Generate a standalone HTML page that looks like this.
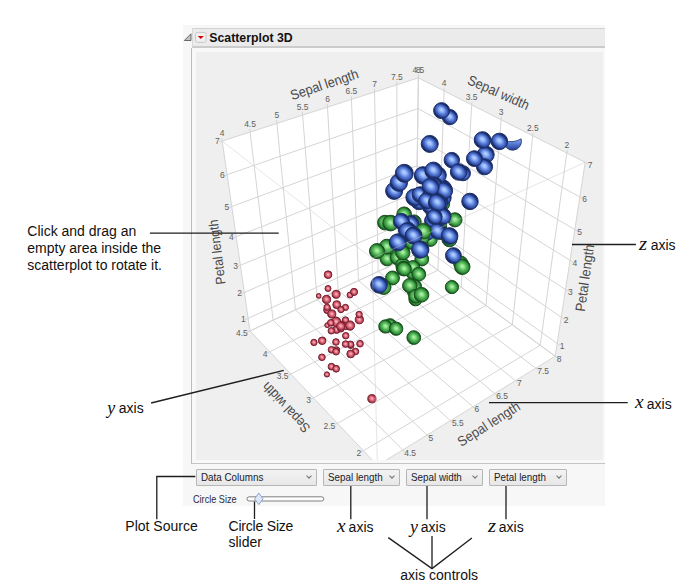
<!DOCTYPE html>
<html><head><meta charset="utf-8"><style>
*{margin:0;padding:0;box-sizing:border-box}
html,body{width:692px;height:586px;background:#fff;overflow:hidden}
body{position:relative;font-family:"Liberation Sans",sans-serif}
.a{position:absolute}
.ann{position:absolute;font-size:14px;color:#111;line-height:17.2px;white-space:nowrap}
.dd{position:absolute;top:468.5px;height:17px;border:1px solid #b6b6b6;border-radius:1px;background:linear-gradient(#f3f3f3,#e7e7e7);font-size:10.3px;color:#1a1a2a;line-height:15px;padding-left:4px;white-space:nowrap}
.dd i{position:absolute;right:5px;top:4px;width:4px;height:4px;border-right:1.3px solid #707070;border-bottom:1.3px solid #707070;transform:rotate(45deg)}
.dd b{font-weight:normal;display:inline-block;transform:scaleX(0.955);transform-origin:0 0}
.it{position:absolute;font-family:"Liberation Serif",serif;font-style:italic;font-size:18px;line-height:20px;color:#111;transform-origin:0 0}
</style></head><body>
<div class="a" style="left:183px;top:25px;width:422px;height:481px;background:#f7f7f7"></div>
<div class="a" style="left:192px;top:28px;width:413px;height:20px;background:#ebebeb;border-top:1px solid #d2d2d2;border-left:1px solid #d9d9d9;border-bottom:2px solid #cbcbcb;box-shadow:0 1px 0 #dedede"></div>
<div class="a" style="left:191px;top:48px;width:414px;height:416px;background:#f8f8f8;border-left:1px solid #bdbdbd;border-bottom:1px solid #c4c4c4"></div>
<div class="a" style="left:196px;top:52px;width:407px;height:408px;background:#efefef"></div>
<svg class="a" style="left:0;top:0" width="692" height="586" viewBox="0 0 692 586">
<defs>
<clipPath id="pc"><rect x="196" y="52" width="407" height="408"/></clipPath>
<radialGradient id="b" cx="0.5" cy="0.5" r="0.53" fx="0.45" fy="0.44" gradientTransform="translate(0.5 0.5) rotate(40) scale(1 0.75) translate(-0.5 -0.5)"><stop offset="0" stop-color="#b8d4ff"/><stop offset="0.27" stop-color="#97b9f9"/><stop offset="0.55" stop-color="#5d81da"/><stop offset="0.78" stop-color="#3b5bb6"/><stop offset="0.9" stop-color="#2a4592"/><stop offset="1" stop-color="#1a2d68"/></radialGradient>
<radialGradient id="g" cx="0.5" cy="0.5" r="0.53" fx="0.48" fy="0.46" gradientTransform="translate(0.5 0.5) rotate(40) scale(1 0.85) translate(-0.5 -0.5)"><stop offset="0" stop-color="#b4f8ac"/><stop offset="0.2" stop-color="#98e692"/><stop offset="0.5" stop-color="#5aba5e"/><stop offset="0.78" stop-color="#34933b"/><stop offset="0.9" stop-color="#23742b"/><stop offset="1" stop-color="#164d1c"/></radialGradient>
<radialGradient id="r" cx="0.5" cy="0.5" r="0.53" fx="0.48" fy="0.46" gradientTransform="translate(0.5 0.5) rotate(40) scale(1 0.85) translate(-0.5 -0.5)"><stop offset="0" stop-color="#fcbac5"/><stop offset="0.2" stop-color="#f59fac"/><stop offset="0.5" stop-color="#dd6a7b"/><stop offset="0.78" stop-color="#c04a5c"/><stop offset="0.9" stop-color="#9c3647"/><stop offset="1" stop-color="#73212f"/></radialGradient>
<linearGradient id="bc" x1="0" y1="0" x2="0" y2="1"><stop offset="0" stop-color="#8fb2f6"/><stop offset="0.45" stop-color="#5578d4"/><stop offset="1" stop-color="#233d8a"/></linearGradient>
<linearGradient id="bs"><stop offset="0" stop-color="#1c2e6a"/></linearGradient>
<linearGradient id="gs"><stop offset="0" stop-color="#1a4f20"/></linearGradient>
<linearGradient id="rs"><stop offset="0" stop-color="#7a2232"/></linearGradient>
</defs>
<g clip-path="url(#pc)">
<path d="M249.99,330.91 L415.88,254.05 L418.38,77.87 L222.2,141.05Z" fill="#fff"/>
<path d="M415.88,254.05 L555.2,356.24 L585.22,162.34 L418.38,77.87Z" fill="#fff"/>
<path d="M249.99,330.91 L415.88,254.05 L555.2,356.24 L377.41,465.51Z" fill="#fff"/>
<g stroke="#d5d5d5" stroke-width="1" fill="none"><line x1="273.11" y1="320.19" x2="250.05" y2="132.08" /><line x1="402.71" y1="449.96" x2="273.11" y2="320.19" /><line x1="295.49" y1="309.83" x2="276.85" y2="123.45" /><line x1="427.03" y1="435.01" x2="295.49" y2="309.83" /><line x1="317.15" y1="299.79" x2="302.64" y2="115.15" /><line x1="450.42" y1="420.64" x2="317.15" y2="299.79" /><line x1="338.13" y1="290.07" x2="327.49" y2="107.14" /><line x1="472.94" y1="406.8" x2="338.13" y2="290.07" /><line x1="358.47" y1="280.65" x2="351.44" y2="99.43" /><line x1="494.63" y1="393.46" x2="358.47" y2="280.65" /><line x1="378.19" y1="271.51" x2="374.54" y2="91.99" /><line x1="515.55" y1="380.61" x2="378.19" y2="271.51" /><line x1="397.32" y1="262.65" x2="396.84" y2="84.81" /><line x1="535.72" y1="368.21" x2="397.32" y2="262.65" /><line x1="248.15" y1="318.35" x2="416.05" y2="242.16" /><line x1="557.17" y1="343.51" x2="416.05" y2="242.16" /><line x1="244.37" y1="292.48" x2="416.4" y2="217.77" /><line x1="561.24" y1="317.23" x2="416.4" y2="217.77" /><line x1="240.39" y1="265.29" x2="416.76" y2="192.3" /><line x1="565.52" y1="289.55" x2="416.76" y2="192.3" /><line x1="236.2" y1="236.67" x2="417.14" y2="165.65" /><line x1="570.04" y1="260.35" x2="417.14" y2="165.65" /><line x1="231.78" y1="206.51" x2="417.53" y2="137.76" /><line x1="574.82" y1="229.52" x2="417.53" y2="137.76" /><line x1="227.12" y1="174.69" x2="417.95" y2="108.54" /><line x1="579.87" y1="196.9" x2="417.95" y2="108.54" /><line x1="540.21" y1="345.25" x2="566.8" y2="153.02" /><line x1="363.41" y1="450.71" x2="540.21" y2="345.25" /><line x1="512.28" y1="324.75" x2="532.78" y2="135.79" /><line x1="337.5" y1="423.34" x2="512.28" y2="324.75" /><line x1="486.01" y1="305.49" x2="501.16" y2="119.78" /><line x1="313.36" y1="397.85" x2="486.01" y2="305.49" /><line x1="461.28" y1="287.35" x2="471.69" y2="104.86" /><line x1="290.84" y1="374.06" x2="461.28" y2="287.35" /><line x1="437.94" y1="270.23" x2="444.16" y2="90.92" /><line x1="269.76" y1="351.79" x2="437.94" y2="270.23" /><path d="M249.99,330.91 L415.88,254.05 L418.38,77.87 L222.2,141.05Z" fill="none"/><path d="M415.88,254.05 L555.2,356.24 L585.22,162.34 L418.38,77.87Z" fill="none"/><path d="M249.99,330.91 L415.88,254.05 L555.2,356.24 L377.41,465.51Z" fill="none"/><line x1="222.2" y1="141.05" x2="221.74" y2="137.89"/><line x1="250.05" y1="132.08" x2="249.66" y2="128.91"/><line x1="276.85" y1="123.45" x2="276.53" y2="120.27"/><line x1="302.64" y1="115.15" x2="302.39" y2="111.96"/><line x1="327.49" y1="107.14" x2="327.3" y2="103.95"/><line x1="351.44" y1="99.43" x2="351.32" y2="96.23"/><line x1="374.54" y1="91.99" x2="374.48" y2="88.79"/><line x1="396.84" y1="84.81" x2="396.84" y2="81.61"/><line x1="418.38" y1="77.87" x2="418.43" y2="74.67"/><line x1="418.38" y1="77.87" x2="418.43" y2="74.67"/><line x1="444.16" y1="90.92" x2="444.27" y2="87.73"/><line x1="471.69" y1="104.86" x2="471.87" y2="101.67"/><line x1="501.16" y1="119.78" x2="501.42" y2="116.59"/><line x1="532.78" y1="135.79" x2="533.13" y2="132.61"/><line x1="566.8" y1="153.02" x2="567.24" y2="149.85"/><line x1="222.2" y1="141.05" x2="219.15" y2="142.03"/><line x1="248.15" y1="318.35" x2="245.24" y2="319.68"/><line x1="244.37" y1="292.48" x2="241.43" y2="293.76"/><line x1="240.39" y1="265.29" x2="237.43" y2="266.51"/><line x1="236.2" y1="236.67" x2="233.22" y2="237.84"/><line x1="231.78" y1="206.51" x2="228.78" y2="207.63"/><line x1="227.12" y1="174.69" x2="224.1" y2="175.74"/><line x1="585.22" y1="162.34" x2="588.07" y2="163.79"/><line x1="557.17" y1="343.51" x2="559.77" y2="345.37"/><line x1="561.24" y1="317.23" x2="563.88" y2="319.04"/><line x1="565.52" y1="289.55" x2="568.2" y2="291.3"/><line x1="570.04" y1="260.35" x2="572.76" y2="262.04"/><line x1="574.82" y1="229.52" x2="577.58" y2="231.13"/><line x1="579.87" y1="196.9" x2="582.68" y2="198.44"/><line x1="249.99" y1="330.91" x2="247.09" y2="332.25"/><line x1="363.41" y1="450.71" x2="360.66" y2="452.35"/><line x1="337.5" y1="423.34" x2="334.71" y2="424.92"/><line x1="313.36" y1="397.85" x2="310.54" y2="399.36"/><line x1="290.84" y1="374.06" x2="287.99" y2="375.51"/><line x1="269.76" y1="351.79" x2="266.88" y2="353.18"/><line x1="402.71" y1="449.96" x2="404.97" y2="452.22"/><line x1="427.03" y1="435.01" x2="429.35" y2="437.22"/><line x1="450.42" y1="420.64" x2="452.79" y2="422.79"/><line x1="472.94" y1="406.8" x2="475.36" y2="408.89"/><line x1="494.63" y1="393.46" x2="497.1" y2="395.5"/><line x1="515.55" y1="380.61" x2="518.05" y2="382.6"/><line x1="535.72" y1="368.21" x2="538.27" y2="370.15"/><line x1="555.2" y1="356.24" x2="557.78" y2="358.13"/></g>
<path d="M503.78,140.52 A8.87,8.87 0 1 0 521.13,138.85 Q513.61,143.49 503.78,140.52Z" fill="url(#bc)" stroke="#1a2d6a" stroke-width="0.8"/><circle cx="328.06" cy="274.69" r="3.83" fill="url(#r)" stroke="url(#rs)" stroke-width="1"/><circle cx="350.02" cy="295.03" r="3" fill="url(#r)" stroke="url(#rs)" stroke-width="1"/><circle cx="327.99" cy="288.53" r="3" fill="url(#r)" stroke="url(#rs)" stroke-width="1"/><circle cx="318.72" cy="295.92" r="2.36" fill="url(#r)" stroke="url(#rs)" stroke-width="1"/><circle cx="336.75" cy="304.64" r="3.97" fill="url(#r)" stroke="url(#rs)" stroke-width="1"/><circle cx="354.02" cy="291.94" r="3.58" fill="url(#r)" stroke="url(#rs)" stroke-width="1"/><circle cx="336.13" cy="294.33" r="4.01" fill="url(#r)" stroke="url(#rs)" stroke-width="1"/><circle cx="345.43" cy="307.42" r="3.12" fill="url(#r)" stroke="url(#rs)" stroke-width="1"/><circle cx="340.91" cy="309.59" r="3.13" fill="url(#r)" stroke="url(#rs)" stroke-width="1"/><circle cx="327.29" cy="309.9" r="3.64" fill="url(#r)" stroke="url(#rs)" stroke-width="1"/><circle cx="359.36" cy="318.51" r="3.13" fill="url(#r)" stroke="url(#rs)" stroke-width="1"/><circle cx="327.11" cy="307.3" r="3.14" fill="url(#r)" stroke="url(#rs)" stroke-width="1"/><circle cx="331.77" cy="313.97" r="4.08" fill="url(#r)" stroke="url(#rs)" stroke-width="1"/><circle cx="326.56" cy="299.42" r="4.09" fill="url(#r)" stroke="url(#rs)" stroke-width="1"/><circle cx="331.85" cy="322.93" r="3.17" fill="url(#r)" stroke="url(#rs)" stroke-width="1"/><circle cx="359.34" cy="319.68" r="4.12" fill="url(#r)" stroke="url(#rs)" stroke-width="1"/><circle cx="345.51" cy="320" r="3.18" fill="url(#r)" stroke="url(#rs)" stroke-width="1"/><circle cx="341.05" cy="324.87" r="3.18" fill="url(#r)" stroke="url(#rs)" stroke-width="1"/><circle cx="341.05" cy="324.87" r="3.7" fill="url(#r)" stroke="url(#rs)" stroke-width="1"/><circle cx="327.2" cy="325.19" r="2.46" fill="url(#r)" stroke="url(#rs)" stroke-width="1"/><circle cx="313.93" cy="342.4" r="3.19" fill="url(#r)" stroke="url(#rs)" stroke-width="1"/><circle cx="336.58" cy="329.74" r="3.71" fill="url(#r)" stroke="url(#rs)" stroke-width="1"/><circle cx="350.31" cy="326.81" r="3.19" fill="url(#r)" stroke="url(#rs)" stroke-width="1"/><circle cx="359.13" cy="314.44" r="3.19" fill="url(#r)" stroke="url(#rs)" stroke-width="1"/><circle cx="449.87" cy="117.08" r="7.58" fill="url(#b)" stroke="url(#bs)" stroke-width="1"/><circle cx="336.1" cy="321.9" r="4.84" fill="url(#r)" stroke="url(#rs)" stroke-width="1"/><circle cx="345.56" cy="326.49" r="3.21" fill="url(#r)" stroke="url(#rs)" stroke-width="1"/><circle cx="340.9" cy="328.79" r="3.22" fill="url(#r)" stroke="url(#rs)" stroke-width="1"/><circle cx="340.75" cy="326.16" r="4.19" fill="url(#r)" stroke="url(#rs)" stroke-width="1"/><circle cx="345.74" cy="335.72" r="3.24" fill="url(#r)" stroke="url(#rs)" stroke-width="1"/><circle cx="350.76" cy="345.32" r="3.24" fill="url(#r)" stroke="url(#rs)" stroke-width="1"/><circle cx="350.02" cy="325.49" r="4.58" fill="url(#r)" stroke="url(#rs)" stroke-width="1"/><circle cx="331.31" cy="330.8" r="3.25" fill="url(#r)" stroke="url(#rs)" stroke-width="1"/><circle cx="441.59" cy="110.63" r="7.98" fill="url(#b)" stroke="url(#bs)" stroke-width="1"/><circle cx="322.14" cy="340.78" r="3.79" fill="url(#r)" stroke="url(#rs)" stroke-width="1"/><circle cx="330.77" cy="322.8" r="3.28" fill="url(#r)" stroke="url(#rs)" stroke-width="1"/><circle cx="336.44" cy="349.93" r="3.28" fill="url(#r)" stroke="url(#rs)" stroke-width="1"/><circle cx="350.47" cy="344.32" r="2.55" fill="url(#r)" stroke="url(#rs)" stroke-width="1"/><circle cx="350.47" cy="344.32" r="3.3" fill="url(#r)" stroke="url(#rs)" stroke-width="1"/><circle cx="441.29" cy="204.27" r="6.83" fill="url(#g)" stroke="url(#gs)" stroke-width="1"/><circle cx="331.47" cy="349.74" r="3.31" fill="url(#r)" stroke="url(#rs)" stroke-width="1"/><circle cx="429.74" cy="143.93" r="8.5" fill="url(#b)" stroke="url(#bs)" stroke-width="1"/><circle cx="335.94" cy="342.01" r="3.31" fill="url(#r)" stroke="url(#rs)" stroke-width="1"/><circle cx="355.47" cy="351.49" r="3.31" fill="url(#r)" stroke="url(#rs)" stroke-width="1"/><circle cx="360" cy="343.74" r="3.32" fill="url(#r)" stroke="url(#rs)" stroke-width="1"/><circle cx="321.94" cy="357.29" r="3.32" fill="url(#r)" stroke="url(#rs)" stroke-width="1"/><circle cx="345.56" cy="344.09" r="3.32" fill="url(#r)" stroke="url(#rs)" stroke-width="1"/><circle cx="350.7" cy="353.95" r="2.57" fill="url(#r)" stroke="url(#rs)" stroke-width="1"/><circle cx="350.7" cy="353.95" r="3.87" fill="url(#r)" stroke="url(#rs)" stroke-width="1"/><circle cx="433.08" cy="222.77" r="6.9" fill="url(#g)" stroke="url(#gs)" stroke-width="1"/><circle cx="336.06" cy="351.66" r="3.34" fill="url(#r)" stroke="url(#rs)" stroke-width="1"/><circle cx="442.57" cy="203.69" r="7.12" fill="url(#g)" stroke="url(#gs)" stroke-width="1"/><circle cx="414.08" cy="222.06" r="7.13" fill="url(#g)" stroke="url(#gs)" stroke-width="1"/><circle cx="384.91" cy="222.63" r="7.31" fill="url(#g)" stroke="url(#gs)" stroke-width="1"/><circle cx="326.9" cy="374.46" r="2.59" fill="url(#r)" stroke="url(#rs)" stroke-width="1"/><circle cx="433.34" cy="213.71" r="7.13" fill="url(#g)" stroke="url(#gs)" stroke-width="1"/><circle cx="404.16" cy="214.28" r="7.32" fill="url(#g)" stroke="url(#gs)" stroke-width="1"/><circle cx="331.45" cy="366.64" r="3.37" fill="url(#r)" stroke="url(#rs)" stroke-width="1"/><circle cx="434.06" cy="228.54" r="6.97" fill="url(#g)" stroke="url(#gs)" stroke-width="1"/><circle cx="442.79" cy="197.53" r="8.4" fill="url(#b)" stroke="url(#bs)" stroke-width="1"/><circle cx="485.79" cy="154.56" r="8.43" fill="url(#b)" stroke="url(#bs)" stroke-width="1"/><circle cx="451.81" cy="160.09" r="7.71" fill="url(#b)" stroke="url(#bs)" stroke-width="1"/><circle cx="418.96" cy="201.69" r="8.03" fill="url(#b)" stroke="url(#bs)" stroke-width="1"/><circle cx="336.12" cy="368.76" r="3.4" fill="url(#r)" stroke="url(#rs)" stroke-width="1"/><circle cx="443.14" cy="188.17" r="8.18" fill="url(#b)" stroke="url(#bs)" stroke-width="1"/><circle cx="437.83" cy="175.17" r="8.47" fill="url(#b)" stroke="url(#bs)" stroke-width="1"/><circle cx="423.07" cy="175.44" r="8.19" fill="url(#b)" stroke="url(#bs)" stroke-width="1"/><circle cx="423.07" cy="175.44" r="8.75" fill="url(#b)" stroke="url(#bs)" stroke-width="1"/><circle cx="430.38" cy="239.55" r="6.86" fill="url(#g)" stroke="url(#gs)" stroke-width="1"/><circle cx="439.84" cy="226.28" r="6.87" fill="url(#g)" stroke="url(#gs)" stroke-width="1"/><circle cx="439.21" cy="208.18" r="7.59" fill="url(#g)" stroke="url(#gs)" stroke-width="1"/><circle cx="394.12" cy="190.91" r="8.51" fill="url(#b)" stroke="url(#bs)" stroke-width="1"/><circle cx="463.01" cy="173.3" r="7.44" fill="url(#b)" stroke="url(#bs)" stroke-width="1"/><circle cx="398.85" cy="182.66" r="8.66" fill="url(#b)" stroke="url(#bs)" stroke-width="1"/><circle cx="454.92" cy="219.84" r="7.09" fill="url(#g)" stroke="url(#gs)" stroke-width="1"/><circle cx="414.38" cy="197.39" r="8.54" fill="url(#b)" stroke="url(#bs)" stroke-width="1"/><circle cx="439.42" cy="201.94" r="8.54" fill="url(#b)" stroke="url(#bs)" stroke-width="1"/><circle cx="433.42" cy="170.62" r="8.55" fill="url(#b)" stroke="url(#bs)" stroke-width="1"/><circle cx="421.09" cy="243.79" r="6.91" fill="url(#g)" stroke="url(#gs)" stroke-width="1"/><circle cx="401.41" cy="249.27" r="7.3" fill="url(#g)" stroke="url(#gs)" stroke-width="1"/><circle cx="434.16" cy="185.66" r="8.71" fill="url(#b)" stroke="url(#bs)" stroke-width="1"/><circle cx="458.65" cy="171.95" r="8.29" fill="url(#b)" stroke="url(#bs)" stroke-width="1"/><circle cx="482.51" cy="139.97" r="8.29" fill="url(#b)" stroke="url(#bs)" stroke-width="1"/><circle cx="421.79" cy="259.03" r="6.93" fill="url(#g)" stroke="url(#gs)" stroke-width="1"/><circle cx="444.36" cy="190.5" r="8.29" fill="url(#b)" stroke="url(#bs)" stroke-width="1"/><circle cx="392.51" cy="277.95" r="6.94" fill="url(#g)" stroke="url(#gs)" stroke-width="1"/><circle cx="390.57" cy="223.08" r="7.84" fill="url(#g)" stroke="url(#gs)" stroke-width="1"/><circle cx="440.92" cy="232.22" r="7.32" fill="url(#g)" stroke="url(#gs)" stroke-width="1"/><circle cx="410.98" cy="232.82" r="7.14" fill="url(#g)" stroke="url(#gs)" stroke-width="1"/><circle cx="430.14" cy="205.92" r="8.17" fill="url(#b)" stroke="url(#bs)" stroke-width="1"/><circle cx="391.82" cy="253.63" r="6.77" fill="url(#g)" stroke="url(#gs)" stroke-width="1"/><circle cx="387" cy="258.86" r="6.98" fill="url(#g)" stroke="url(#gs)" stroke-width="1"/><circle cx="484.48" cy="166.78" r="8.05" fill="url(#b)" stroke="url(#bs)" stroke-width="1"/><circle cx="420.02" cy="194.7" r="7.89" fill="url(#b)" stroke="url(#bs)" stroke-width="1"/><circle cx="474.38" cy="158.62" r="7.91" fill="url(#b)" stroke="url(#bs)" stroke-width="1"/><circle cx="411.72" cy="241.99" r="7.39" fill="url(#g)" stroke="url(#gs)" stroke-width="1"/><circle cx="411.07" cy="223.53" r="7.91" fill="url(#b)" stroke="url(#bs)" stroke-width="1"/><circle cx="406.25" cy="228.74" r="7.92" fill="url(#b)" stroke="url(#bs)" stroke-width="1"/><circle cx="404.3" cy="173.29" r="8.95" fill="url(#b)" stroke="url(#bs)" stroke-width="1"/><circle cx="430.39" cy="196.39" r="7.92" fill="url(#b)" stroke="url(#bs)" stroke-width="1"/><circle cx="416.57" cy="233.67" r="7.21" fill="url(#g)" stroke="url(#gs)" stroke-width="1"/><circle cx="499.41" cy="141.41" r="8.25" fill="url(#b)" stroke="url(#bs)" stroke-width="1"/><circle cx="397.25" cy="257.74" r="7.03" fill="url(#g)" stroke="url(#gs)" stroke-width="1"/><circle cx="413.74" cy="291.49" r="6.38" fill="url(#g)" stroke="url(#gs)" stroke-width="1"/><circle cx="413.09" cy="272.93" r="6.84" fill="url(#g)" stroke="url(#gs)" stroke-width="1"/><circle cx="402.75" cy="264.94" r="7.06" fill="url(#g)" stroke="url(#gs)" stroke-width="1"/><circle cx="427.04" cy="232.38" r="7.97" fill="url(#b)" stroke="url(#bs)" stroke-width="1"/><circle cx="386.85" cy="246.66" r="7.45" fill="url(#g)" stroke="url(#gs)" stroke-width="1"/><circle cx="422.21" cy="237.65" r="6.86" fill="url(#g)" stroke="url(#gs)" stroke-width="1"/><circle cx="430.64" cy="186.7" r="8.61" fill="url(#b)" stroke="url(#bs)" stroke-width="1"/><circle cx="413.16" cy="266.89" r="6.42" fill="url(#g)" stroke="url(#gs)" stroke-width="1"/><circle cx="432.04" cy="220.82" r="7.48" fill="url(#b)" stroke="url(#bs)" stroke-width="1"/><circle cx="371.88" cy="398.7" r="4.1" fill="url(#r)" stroke="url(#rs)" stroke-width="1"/><circle cx="401.44" cy="221.43" r="8.02" fill="url(#b)" stroke="url(#bs)" stroke-width="1"/><circle cx="437.64" cy="231.08" r="8.02" fill="url(#b)" stroke="url(#bs)" stroke-width="1"/><circle cx="418.78" cy="274.2" r="6.9" fill="url(#g)" stroke="url(#gs)" stroke-width="1"/><circle cx="376.95" cy="251.08" r="7.51" fill="url(#g)" stroke="url(#gs)" stroke-width="1"/><circle cx="402.77" cy="252.68" r="7.14" fill="url(#g)" stroke="url(#gs)" stroke-width="1"/><circle cx="426.68" cy="200.93" r="8.06" fill="url(#b)" stroke="url(#bs)" stroke-width="1"/><circle cx="442.84" cy="216.24" r="8.24" fill="url(#b)" stroke="url(#bs)" stroke-width="1"/><circle cx="403.45" cy="268.43" r="7.16" fill="url(#g)" stroke="url(#gs)" stroke-width="1"/><circle cx="389.99" cy="325.38" r="6.73" fill="url(#g)" stroke="url(#gs)" stroke-width="1"/><circle cx="437.3" cy="202.68" r="8.57" fill="url(#b)" stroke="url(#bs)" stroke-width="1"/><circle cx="437.3" cy="202.68" r="8.72" fill="url(#b)" stroke="url(#bs)" stroke-width="1"/><circle cx="414.72" cy="286.32" r="6.77" fill="url(#g)" stroke="url(#gs)" stroke-width="1"/><circle cx="449.45" cy="239.17" r="7.6" fill="url(#g)" stroke="url(#gs)" stroke-width="1"/><circle cx="383.62" cy="287" r="7.41" fill="url(#g)" stroke="url(#gs)" stroke-width="1"/><circle cx="460.74" cy="263.25" r="7.21" fill="url(#g)" stroke="url(#gs)" stroke-width="1"/><circle cx="423.38" cy="231.24" r="7.81" fill="url(#g)" stroke="url(#gs)" stroke-width="1"/><circle cx="449.59" cy="235.99" r="8.33" fill="url(#b)" stroke="url(#bs)" stroke-width="1"/><circle cx="407.78" cy="231.55" r="9.09" fill="url(#b)" stroke="url(#bs)" stroke-width="1"/><circle cx="415.47" cy="299.3" r="6.57" fill="url(#g)" stroke="url(#gs)" stroke-width="1"/><circle cx="397.82" cy="242.36" r="8.51" fill="url(#b)" stroke="url(#bs)" stroke-width="1"/><circle cx="409.82" cy="285.67" r="7.25" fill="url(#g)" stroke="url(#gs)" stroke-width="1"/><circle cx="415.51" cy="296.28" r="6.82" fill="url(#g)" stroke="url(#gs)" stroke-width="1"/><circle cx="451.89" cy="287.05" r="6.59" fill="url(#g)" stroke="url(#gs)" stroke-width="1"/><circle cx="469.97" cy="201.43" r="8.22" fill="url(#b)" stroke="url(#bs)" stroke-width="1"/><circle cx="404.18" cy="268.91" r="7.07" fill="url(#g)" stroke="url(#gs)" stroke-width="1"/><circle cx="413.53" cy="235.64" r="8.39" fill="url(#b)" stroke="url(#bs)" stroke-width="1"/><circle cx="413.53" cy="235.64" r="8.39" fill="url(#b)" stroke="url(#bs)" stroke-width="1"/><circle cx="462.29" cy="266.78" r="7.72" fill="url(#g)" stroke="url(#gs)" stroke-width="1"/><circle cx="385.38" cy="326.46" r="6.65" fill="url(#g)" stroke="url(#gs)" stroke-width="1"/><circle cx="434.6" cy="216.85" r="7.56" fill="url(#b)" stroke="url(#bs)" stroke-width="1"/><circle cx="396.14" cy="328.7" r="6.67" fill="url(#g)" stroke="url(#gs)" stroke-width="1"/><circle cx="421.47" cy="294.76" r="7.36" fill="url(#g)" stroke="url(#gs)" stroke-width="1"/><circle cx="420.22" cy="249.54" r="8.7" fill="url(#b)" stroke="url(#bs)" stroke-width="1"/><circle cx="453.41" cy="255.55" r="7.89" fill="url(#b)" stroke="url(#bs)" stroke-width="1"/><circle cx="379.07" cy="284.81" r="8.33" fill="url(#b)" stroke="url(#bs)" stroke-width="1"/><circle cx="413.77" cy="337.58" r="6.87" fill="url(#g)" stroke="url(#gs)" stroke-width="1"/>
<g stroke="#c4c4c4" stroke-width="1" opacity="0.42"><line x1="222.2" y1="141.05" x2="372.11" y2="258.44" /><line x1="372.11" y1="258.44" x2="585.22" y2="162.34" /><line x1="372.11" y1="258.44" x2="377.41" y2="465.51" /></g>
<g font-family="Liberation Sans, sans-serif"><text transform="translate(222.2 135.85) scale(0.9 1)" font-size="9.4" text-anchor="middle" fill="#606060">4</text><text transform="translate(250.05 126.88) scale(0.9 1)" font-size="9.4" text-anchor="middle" fill="#606060">4.5</text><text transform="translate(276.85 118.25) scale(0.9 1)" font-size="9.4" text-anchor="middle" fill="#606060">5</text><text transform="translate(302.64 109.95) scale(0.9 1)" font-size="9.4" text-anchor="middle" fill="#606060">5.5</text><text transform="translate(327.49 101.94) scale(0.9 1)" font-size="9.4" text-anchor="middle" fill="#606060">6</text><text transform="translate(351.44 94.23) scale(0.9 1)" font-size="9.4" text-anchor="middle" fill="#606060">6.5</text><text transform="translate(374.54 86.79) scale(0.9 1)" font-size="9.4" text-anchor="middle" fill="#606060">7</text><text transform="translate(396.84 79.61) scale(0.9 1)" font-size="9.4" text-anchor="middle" fill="#606060">7.5</text><text transform="translate(418.38 72.67) scale(0.9 1)" font-size="9.4" text-anchor="middle" fill="#606060">8</text><text transform="translate(418.38 73.07) scale(0.9 1)" font-size="9.4" text-anchor="middle" fill="#606060">4.5</text><text transform="translate(444.16 86.12) scale(0.9 1)" font-size="9.4" text-anchor="middle" fill="#606060">4</text><text transform="translate(471.69 100.06) scale(0.9 1)" font-size="9.4" text-anchor="middle" fill="#606060">3.5</text><text transform="translate(501.16 114.98) scale(0.9 1)" font-size="9.4" text-anchor="middle" fill="#606060">3</text><text transform="translate(532.78 130.99) scale(0.9 1)" font-size="9.4" text-anchor="middle" fill="#606060">2.5</text><text transform="translate(566.8 148.22) scale(0.9 1)" font-size="9.4" text-anchor="middle" fill="#606060">2</text><text transform="translate(219.7 144.45) scale(0.9 1)" font-size="9.4" text-anchor="end" fill="#606060">7</text><text transform="translate(245.65 321.75) scale(0.9 1)" font-size="9.4" text-anchor="end" fill="#606060">1</text><text transform="translate(241.87 295.88) scale(0.9 1)" font-size="9.4" text-anchor="end" fill="#606060">2</text><text transform="translate(237.89 268.69) scale(0.9 1)" font-size="9.4" text-anchor="end" fill="#606060">3</text><text transform="translate(233.7 240.07) scale(0.9 1)" font-size="9.4" text-anchor="end" fill="#606060">4</text><text transform="translate(229.28 209.91) scale(0.9 1)" font-size="9.4" text-anchor="end" fill="#606060">5</text><text transform="translate(224.62 178.09) scale(0.9 1)" font-size="9.4" text-anchor="end" fill="#606060">6</text><text transform="translate(587.72 167.64) scale(0.9 1)" font-size="9.4" text-anchor="start" fill="#606060">7</text><text transform="translate(559.67 348.81) scale(0.9 1)" font-size="9.4" text-anchor="start" fill="#606060">1</text><text transform="translate(563.74 322.53) scale(0.9 1)" font-size="9.4" text-anchor="start" fill="#606060">2</text><text transform="translate(568.02 294.85) scale(0.9 1)" font-size="9.4" text-anchor="start" fill="#606060">3</text><text transform="translate(572.54 265.65) scale(0.9 1)" font-size="9.4" text-anchor="start" fill="#606060">4</text><text transform="translate(577.32 234.82) scale(0.9 1)" font-size="9.4" text-anchor="start" fill="#606060">5</text><text transform="translate(582.37 202.2) scale(0.9 1)" font-size="9.4" text-anchor="start" fill="#606060">6</text><text transform="translate(247.69 336.21) scale(0.9 1)" font-size="9.4" text-anchor="end" fill="#606060">4.5</text><text transform="translate(361.11 456.01) scale(0.9 1)" font-size="9.4" text-anchor="end" fill="#606060">2</text><text transform="translate(335.2 428.64) scale(0.9 1)" font-size="9.4" text-anchor="end" fill="#606060">2.5</text><text transform="translate(311.06 403.15) scale(0.9 1)" font-size="9.4" text-anchor="end" fill="#606060">3</text><text transform="translate(288.54 379.36) scale(0.9 1)" font-size="9.4" text-anchor="end" fill="#606060">3.5</text><text transform="translate(267.46 357.09) scale(0.9 1)" font-size="9.4" text-anchor="end" fill="#606060">4</text><text transform="translate(404.21 455.56) scale(0.9 1)" font-size="9.4" text-anchor="start" fill="#606060">4.5</text><text transform="translate(428.53 440.61) scale(0.9 1)" font-size="9.4" text-anchor="start" fill="#606060">5</text><text transform="translate(451.92 426.24) scale(0.9 1)" font-size="9.4" text-anchor="start" fill="#606060">5.5</text><text transform="translate(474.44 412.4) scale(0.9 1)" font-size="9.4" text-anchor="start" fill="#606060">6</text><text transform="translate(496.13 399.06) scale(0.9 1)" font-size="9.4" text-anchor="start" fill="#606060">6.5</text><text transform="translate(517.05 386.21) scale(0.9 1)" font-size="9.4" text-anchor="start" fill="#606060">7</text><text transform="translate(537.22 373.81) scale(0.9 1)" font-size="9.4" text-anchor="start" fill="#606060">7.5</text><text transform="translate(556.7 361.84) scale(0.9 1)" font-size="9.4" text-anchor="start" fill="#606060">8</text></g>
<g font-family="Liberation Sans, sans-serif"><text transform="translate(292.2 100.3) rotate(-18.5) scale(0.915 1)" font-size="13.95" fill="#4a4a4a">Sepal length</text><text transform="translate(466.5 83.5) rotate(24) scale(0.915 1)" font-size="13.95" fill="#4a4a4a">Sepal width</text><text transform="translate(225.5 284) rotate(-97) scale(0.915 1)" font-size="13.52" fill="#4a4a4a">Petal length</text><text transform="translate(584.8 312) rotate(-82) scale(0.915 1)" font-size="13.95" fill="#4a4a4a">Petal length</text><text transform="translate(311 427.5) rotate(-133) scale(0.915 1)" font-size="13.41" fill="#4a4a4a">Sepal width</text><text transform="translate(461.3 446.9) rotate(-32.3) scale(0.915 1)" font-size="13.95" fill="#4a4a4a">Sepal length</text></g>
</g>
<!-- header icons -->
<path d="M184.3,40.5 L191,40.5 L191,33.8 Z" fill="#c4c4c4" stroke="#5a5a5a" stroke-width="0.9" stroke-linejoin="round"/>
<rect x="195.5" y="32.4" width="10.6" height="10" rx="2.2" fill="#f0f0f0" stroke="#c8c8c8" stroke-width="1"/>
<path d="M197.7,36.1 L203.9,36.1 L200.8,39 Z" fill="#d40000"/>
<!-- slider -->
<rect x="247" y="496.8" width="76.8" height="4.2" rx="2.1" fill="#fdfdfd" stroke="#808080" stroke-width="1"/>
<path d="M258.8,493 L263,498.8 L258.8,504.6 L254.6,498.8 Z" fill="#dde8f7" stroke="#7f9cc6" stroke-width="0.9"/>
<!-- annotation lines -->
<g stroke="#1e1e1e" stroke-width="1.3" fill="none">
<line x1="149.9" y1="233.2" x2="278.7" y2="233.2"/>
<line x1="151.1" y1="403" x2="283.8" y2="370.4"/>
<line x1="572" y1="244.5" x2="635.9" y2="244.5"/>
<line x1="489" y1="402.6" x2="627.7" y2="402.6"/>
<polyline points="195.3,476.5 156.8,476.5 156.8,519.2"/>
<line x1="254.5" y1="501.5" x2="254.5" y2="519"/>
<line x1="350.8" y1="486" x2="350.8" y2="519.3"/>
<line x1="427" y1="486" x2="427" y2="519.3"/>
<line x1="506" y1="486" x2="506" y2="519.3"/>
<polyline points="388.3,537.6 432,568.6 471.9,537.9"/>
<line x1="432" y1="536" x2="432" y2="568.6"/>
</g>
</svg>
<div class="a" style="left:209.3px;top:30.5px;font-weight:bold;font-size:12.3px;color:#111;white-space:nowrap">Scatterplot 3D</div>
<div class="dd" style="left:195.5px;width:121.5px"><b>Data Columns</b><i></i></div>
<div class="dd" style="left:323.2px;width:76.7px"><b>Sepal length</b><i></i></div>
<div class="dd" style="left:406.1px;width:77.1px"><b>Sepal width</b><i></i></div>
<div class="dd" style="left:489.2px;width:77.4px"><b>Petal length</b><i></i></div>
<div class="a" style="left:192.8px;top:494px;font-size:10.3px;color:#2a2a3a;white-space:nowrap;transform:scaleX(0.885);transform-origin:0 0">Circle Size</div>
<div class="ann" style="left:27.3px;top:222.5px">Click and drag an<br>empty area inside the<br>scatterplot to rotate it.</div>
<div class="it" style="left:107.2px;top:397.93px;transform:scaleX(1.0)">y</div><div class="ann" style="left:118.8px;top:399.9px">axis</div>
<div class="it" style="left:639.2px;top:234.23px;transform:scaleX(1.15)">z</div><div class="ann" style="left:650.7px;top:237.3px">axis</div>
<div class="it" style="left:634.8px;top:391.73px;transform:scaleX(1.07)">x</div><div class="ann" style="left:646.8px;top:395.5px">axis</div>
<div class="ann" style="left:125.3px;top:518px">Plot Source</div>
<div class="ann" style="left:228.5px;top:517.5px;line-height:16.2px"><span style="letter-spacing:-0.2px">Circle Size</span><br>slider</div>
<div class="it" style="left:337px;top:515.63px;transform:scaleX(1.07)">x</div><div class="ann" style="left:348.6px;top:519.4px">axis</div>
<div class="it" style="left:410px;top:516.63px;transform:scaleX(1.0)">y</div><div class="ann" style="left:420.8px;top:519.4px">axis</div>
<div class="it" style="left:487.8px;top:515.63px;transform:scaleX(1.15)">z</div><div class="ann" style="left:498.8px;top:519.4px">axis</div>
<div class="ann" style="left:400.3px;top:566.5px">axis controls</div>
</body></html>
